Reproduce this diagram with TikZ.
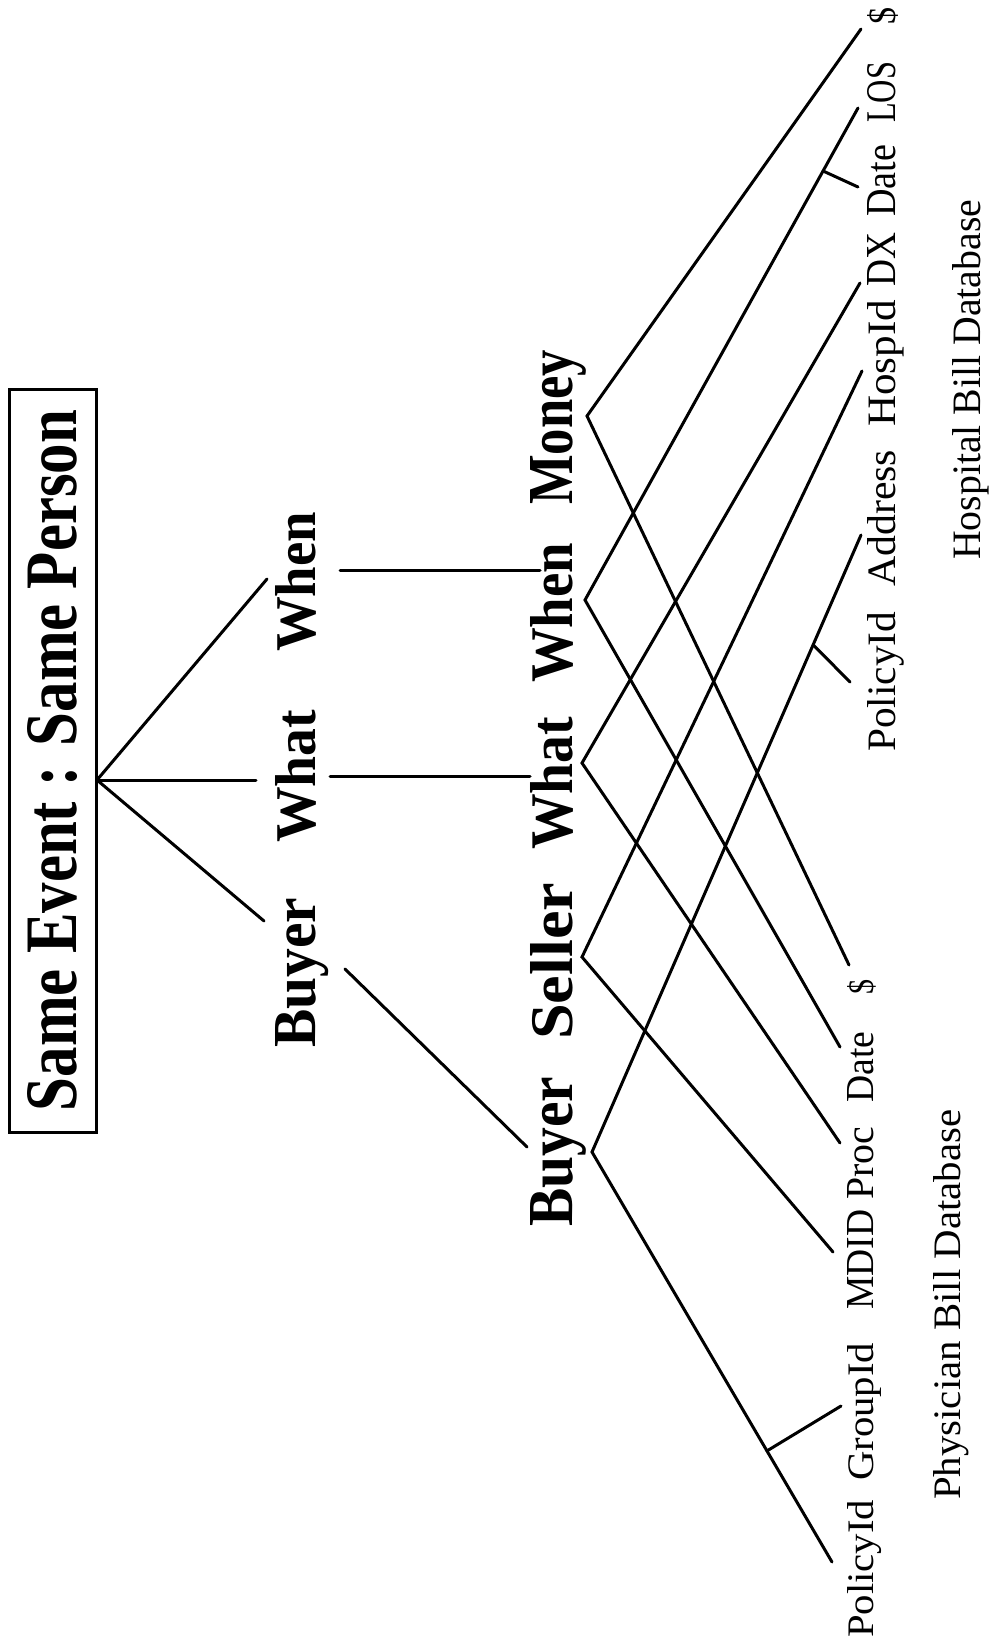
\documentclass[tikz,border=0pt]{standalone}
\usepackage{fontspec}
\setmainfont{Liberation Serif}
\usepackage{graphicx}
% set a label so that it is exactly #1 long and its capitals #2 tall
\newcommand{\fitted}[3]{\resizebox{#1pt}{#2pt}{#3}}
\begin{document}
\begin{tikzpicture}[x=1pt,y=-1pt,
  ln/.style={line width=3pt, line cap=round},
  lab/.style={rotate=90, inner sep=0pt, anchor=base west},
  big/.style={lab, font=\bfseries},
  fld/.style={lab, font=\normalfont}]
\useasboundingbox (0,0) rectangle (989,1641);
\fill[white] (0,0) rectangle (989,1641);

% heading
\node[draw, line width=3pt, rotate=90, minimum width=743pt, minimum height=87pt,
      inner sep=0pt, font=\bfseries] (head) at (52.5,760.5)
      {\fitted{701}{49}{Same Event : Same Person}};

% first level
\node[big] (aBuyer) at (315,1048) {\fitted{150}{40}{Buyer}};
\node[big] (aWhat)  at (315,843)  {\fitted{133}{40}{What}};
\node[big] (aWhen)  at (315,652)  {\fitted{140}{40}{When}};

% second level
\node[big] (bMoney)  at (572,505)  {\fitted{155}{42}{Money}};
\node[big] (bWhen)   at (572,683)  {\fitted{140}{42}{When}};
\node[big] (bWhat)   at (572,850)  {\fitted{133}{42}{What}};
\node[big] (bSeller) at (572,1040) {\fitted{157}{42}{Seller}};
\node[big] (bBuyer)  at (572,1227) {\fitted{150}{42}{Buyer}};

% hospital bill fields
\node[fld] (hD)    at (895,25)  {\fitted{17}{28}{\$}};
\node[fld] (hL)    at (895,123) {\fitted{61}{28}{LOS}};
\node[fld] (hDt)   at (895,217) {\fitted{72}{28}{Date}};
\node[fld] (hX)    at (895,287) {\fitted{54}{28}{DX}};
\node[fld] (hH)    at (895,427) {\fitted{127}{28}{HospId}};
\node[fld] (hA)    at (895,587) {\fitted{137}{28}{Address}};
\node[fld] (hP)    at (895,752) {\fitted{140}{28}{PolicyId}};
\node[fld] (hTitle) at (980,560) {\fitted{360}{28}{Hospital Bill Database}};

% physician bill fields
\node[fld] (pD)    at (873,995)  {\fitted{15}{26}{\$}};
\node[fld] (pDt)   at (873,1103) {\fitted{71}{26}{Date}};
\node[fld] (pPr)   at (873,1200) {\fitted{73}{26}{Proc}};
\node[fld] (pM)    at (873,1310) {\fitted{100}{26}{MDID}};
\node[fld] (pG)    at (873,1481) {\fitted{138}{26}{GroupId}};
\node[fld] (pP)    at (873,1638) {\fitted{138}{26}{PolicyId}};
\node[fld] (pTitle) at (960,1500) {\fitted{390}{27}{Physician Bill Database}};

% connector ends
\coordinate (root)   at (97,780);
\coordinate (fWhen)  at (267,579);
\coordinate (fWhat)  at (256,780);
\coordinate (fBuyer) at (264,921);
\coordinate (sWhen)  at (340,570);
\coordinate (tWhen)  at (540,570);
\coordinate (sWhat)  at (330,776);
\coordinate (tWhat)  at (530,776);
\coordinate (sBuyer) at (345,969);
\coordinate (tBuyer) at (527,1147);

\coordinate (vMoney)  at (587,416);
\coordinate (vWhen)   at (585,600);
\coordinate (vWhat)   at (582,763);
\coordinate (vSeller) at (582,957);
\coordinate (vBuyer)  at (592,1152);

\coordinate (eHD) at (861,29);
\coordinate (eHL) at (858,108);
\coordinate (eHX) at (860,283);
\coordinate (eHH) at (862,371);
\coordinate (eHA) at (861,535);

\coordinate (ePD) at (849,965);
\coordinate (ePT) at (840,1047);
\coordinate (ePR) at (840,1143);
\coordinate (ePM) at (833,1252);
\coordinate (ePP) at (832,1562);

% fan from the heading
\draw[ln] (root) -- (fWhen);
\draw[ln] (root) -- (fWhat);
\draw[ln] (root) -- (fBuyer);

% first level to second level
\draw[ln] (sWhen) -- (tWhen);
\draw[ln] (sWhat) -- (tWhat);
\draw[ln] (sBuyer) -- (tBuyer);

% second level to the two databases
\draw[ln] (eHD) -- (vMoney)  -- (ePD);
\draw[ln] (eHL) -- (vWhen)   -- (ePT) ;
\draw[ln] (eHX) -- (vWhat)   -- (ePR);
\draw[ln] (eHH) -- (vSeller) -- (ePM);
\draw[ln] (eHA) -- (vBuyer)  -- (ePP);

% side ticks for the shared fields
\path (vWhen) -- (eHL) coordinate[pos=0.872] (kDate);
\path (vBuyer) -- (eHA) coordinate[pos=0.822] (kHPol);
\path (vBuyer) -- (ePP) coordinate[pos=0.729] (kGrp);
\coordinate (kDateEnd) at (858,187);
\coordinate (kHPolEnd) at (850,682);
\coordinate (kGrpEnd)  at (841,1406);
\draw[ln] (kDate) -- (kDateEnd);
\draw[ln] (kHPol) -- (kHPolEnd);
\draw[ln] (kGrp) -- (kGrpEnd);
\end{tikzpicture}
\end{document}
